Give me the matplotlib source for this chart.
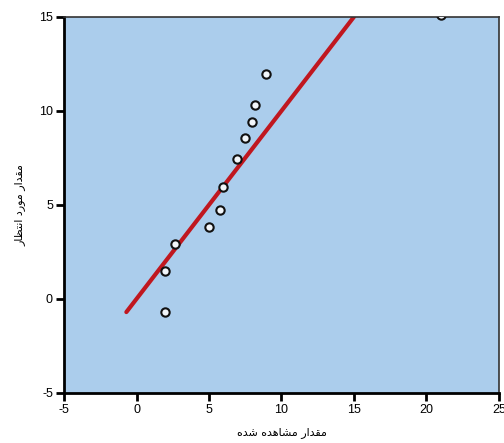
import matplotlib
matplotlib.use("Agg")
import matplotlib.pyplot as plt

observed = [2.0, 2.0, 2.65, 5.0, 5.75, 6.0, 6.95, 7.5, 8.0, 8.2, 8.95, 21.0]
expected = [-0.7, 1.5, 2.9, 3.85, 4.75, 5.95, 7.45, 8.55, 9.4, 10.3, 11.95, 15.1]
fit_x = [-0.7, 15.0]
fit_y = [-0.7, 15.0]
x_ticks = [-5, 0, 5, 10, 15, 20, 25]
y_ticks = [-5, 0, 5, 10, 15]

# Persian labels, pre-shaped (presentation forms, visual order)
x_label = "\ufee9\ufeaa\ufeb7 \ufee9\ufeaa\ufeeb\ufe8e\ufeb8\ufee3 \ufead\ufe8d\ufeaa\ufed8\ufee3"
y_label = "\ufead\ufe8e\ufec8\ufe98\ufee7\ufe8d \ufea9\ufead\ufeee\ufee3 \ufead\ufe8d\ufeaa\ufed8\ufee3"

plt.rcParams["font.family"] = ["Liberation Sans", "DejaVu Sans"]
plt.rcParams["axes.unicode_minus"] = False

fig = plt.figure(figsize=(5.04, 4.43), dpi=100)
ax = fig.add_axes([0.127, 0.113, 0.863, 0.849])
ax.set_facecolor("#abcdec")

ax.plot(fit_x, fit_y, color="#c0171f", linewidth=3, solid_capstyle="round", zorder=2)
ax.scatter(observed, expected, s=36, facecolor="#f2f6fa", edgecolor="#111111",
           linewidth=1.5, zorder=3)

ax.set_xlim(-5, 25)
ax.set_ylim(-5, 15)
ax.set_xticks(x_ticks)
ax.set_yticks(y_ticks)
ax.tick_params(direction="out", length=6, width=2, labelsize=9, pad=2)
for side in ["left", "bottom"]:
    ax.spines[side].set_linewidth(2)
for side in ["top", "right"]:
    ax.spines[side].set_linewidth(1.2)
    ax.spines[side].set_color("#333333")

ax.set_xlabel(x_label, family=["DejaVu Sans"], fontsize=8, labelpad=8)
ax.set_ylabel(y_label, family=["DejaVu Sans"], fontsize=8, labelpad=10)

fig.savefig("out.png", dpi=100)
